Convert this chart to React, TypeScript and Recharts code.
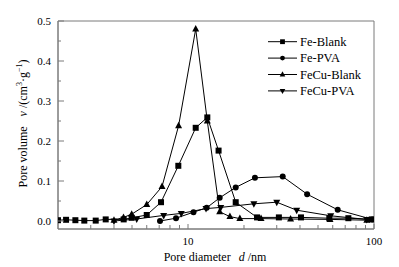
import React from 'react';
import { LineChart, Line, XAxis, YAxis, ReferenceArea, Legend, Label } from 'recharts';

// pore diameter (nm) and pore volume (cm3/g)
const feBlankD = [2.0, 2.21, 2.48, 2.77, 3.19, 3.61, 4.51, 4.98, 6.0, 7.16, 8.87, 11.0, 12.7, 14.6, 18.05, 23.5, 30.8, 40.5, 57.5, 72.8, 97.2];
const feBlankV = [0.002, 0.003, 0.002, 0.001, 0.001, 0.004, 0.004, 0.008, 0.015, 0.047, 0.138, 0.233, 0.259, 0.176, 0.047, 0.009, 0.009, 0.009, 0.007, 0.007, 0.004];

const fePvaD = [7.07, 8.62, 10.7, 12.6, 14.8, 18.05, 22.9, 32.3, 43.7, 63.8, 97.9];
const fePvaV = [0.0, 0.007, 0.022, 0.033, 0.058, 0.084, 0.108, 0.111, 0.067, 0.028, 0.004];

const feCuBlankD = [4.0, 4.5, 4.98, 6.0, 7.25, 8.9, 11.0, 12.7, 14.8, 16.8, 19.0, 24.7, 35.6, 58.0, 91.5];
const feCuBlankV = [0.002, 0.009, 0.017, 0.041, 0.086, 0.238, 0.48, 0.25, 0.023, 0.011, 0.006, 0.006, 0.005, 0.004, 0.002];

const feCuPvaD = [4.0, 5.3, 7.4, 9.2, 12.5, 15.0, 22.6, 30.0, 38.4, 58.5, 91.4];
const feCuPvaV = [0.0, 0.005, 0.014, 0.019, 0.031, 0.034, 0.043, 0.047, 0.027, 0.013, 0.004];

const xTicks = [3, 4, 5, 6, 7, 8, 9, 10, 20, 30, 40, 50, 60, 70, 80, 90, 100];
const yTicks = [0, 0.05, 0.1, 0.15, 0.2, 0.25, 0.3, 0.35, 0.4, 0.45, 0.5];

const toRows = (d: number[], v: number[]) => d.map((x, i) => ({ d: x, v: v[i] }));

const SERIES = [
  { key: 'feBlank', name: 'Fe-Blank', shape: 'square', data: toRows(feBlankD, feBlankV) },
  { key: 'fePva', name: 'Fe-PVA', shape: 'circle', data: toRows(fePvaD, fePvaV) },
  { key: 'feCuBlank', name: 'FeCu-Blank', shape: 'up', data: toRows(feCuBlankD, feCuBlankV) },
  { key: 'feCuPva', name: 'FeCu-PVA', shape: 'down', data: toRows(feCuPvaD, feCuPvaV) },
];

const FONT = "'Liberation Serif', 'Times New Roman', 'DejaVu Serif', serif";
const AXIS = '#7a7a7a';
const txt = { fontFamily: FONT };

const Marker = ({ shape, cx, cy, s = 1 }: { shape: string; cx: number; cy: number; s?: number }) => {
  if (shape === 'square') return <rect x={cx - 3 * s} y={cy - 3 * s} width={6 * s} height={6 * s} fill="#000" />;
  if (shape === 'circle') return <circle cx={cx} cy={cy} r={3 * s} fill="#000" />;
  if (shape === 'up')
    return <polygon points={`${cx},${cy - 4 * s} ${cx - 3.5 * s},${cy + 2.5 * s} ${cx + 3.5 * s},${cy + 2.5 * s}`} fill="#000" />;
  return <polygon points={`${cx},${cy + 4 * s} ${cx - 3.5 * s},${cy - 2.5 * s} ${cx + 3.5 * s},${cy - 2.5 * s}`} fill="#000" />;
};

const XTick = (props: any) => {
  const { x, y, payload } = props;
  const major = payload.value === 10 || payload.value === 100;
  return (
    <g>
      <line x1={x} y1={y} x2={x} y2={y - (major ? 5 : 4)} stroke={AXIS} />
      {major && (
        <text x={x} y={y + 16} textAnchor="middle" fontSize={11} style={txt} fill="#000">
          {payload.value}
        </text>
      )}
    </g>
  );
};

const YTick = (props: any) => {
  const { x, y, payload } = props;
  const v = payload.value;
  const major = Math.abs(v * 10 - Math.round(v * 10)) < 1e-6;
  return (
    <g>
      <line x1={x} y1={y} x2={x + (major ? 6 : 3)} y2={y} stroke={AXIS} />
      {major && (
        <text x={x - 7} y={y + 4} textAnchor="end" fontSize={11} style={txt} fill="#000">
          {v.toFixed(1)}
        </text>
      )}
    </g>
  );
};

const XTitle = (props: any) => {
  const { viewBox } = props;
  const cx = viewBox.x + viewBox.width / 2 - 1;
  return (
    <text x={cx} y={viewBox.y + 31.5} textAnchor="middle" fontSize={12} style={txt} fill="#000">
      Pore diameter
      <tspan dx={8} fontStyle="italic">d</tspan>
      <tspan> /nm</tspan>
    </text>
  );
};

const YTitle = () => {
  const cx = 26.5;
  const cy = 123.5;
  return (
    <text x={cx} y={cy} transform={`rotate(-90 ${cx} ${cy})`} textAnchor="middle" fontSize={12} style={txt} fill="#000">
      Pore volume
      <tspan dx={10} fontStyle="italic">v</tspan>
      <tspan> /(cm</tspan>
      <tspan fontSize={8} dy={-5}>3</tspan>
      <tspan dy={5}>·g</tspan>
      <tspan fontSize={8} dy={-5}>−1</tspan>
      <tspan dy={5}>)</tspan>
    </text>
  );
};

const LegendBox = (props: any) => {
  const items = props.payload || [];
  return (
    <svg width={120} height={70} style={{ display: 'block' }}>
      {items.map((it: any, i: number) => {
        const s = SERIES.find(e => e.name === it.value) || SERIES[i];
        const y = 8.7 + i * 16.4;
        return (
          <g key={s.key}>
            <line x1={2} x2={31} y1={y} y2={y} stroke="#000" />
            <Marker shape={s.shape} cx={16.5} cy={y} s={0.8} />
            <text x={34} y={y + 4.3} fontSize={12.5} style={txt} fill="#000">
              {s.name}
            </text>
          </g>
        );
      })}
    </svg>
  );
};

export default function App() {
  return (
    <div style={{ position: 'absolute', left: 0, top: 0, width: 399, height: 267, background: '#fff', fontFamily: FONT }}>
      <LineChart width={399} height={267} margin={{ top: 21, right: 25, bottom: 0, left: 0 }} style={txt}>
        <XAxis
          type="number"
          dataKey="d"
          scale="log"
          domain={[2, 100]}
          allowDataOverflow
          ticks={xTicks}
          interval={0}
          height={38}
          tickSize={0}
          tickMargin={0}
          tick={<XTick />}
          axisLine={{ stroke: AXIS }}
        >
          <Label content={<XTitle />} />
        </XAxis>
        <YAxis
          type="number"
          domain={[-0.02, 0.5]}
          allowDataOverflow
          ticks={yTicks}
          interval={0}
          width={58}
          tickSize={0}
          tickMargin={0}
          tick={<YTick />}
          axisLine={{ stroke: AXIS }}
        >
          <Label content={<YTitle />} />
        </YAxis>
        <ReferenceArea x1={2} x2={100} y1={-0.02} y2={0.5} fill="none" stroke={AXIS} ifOverflow="visible" />
        {SERIES.map(s => (
          <Line
            key={s.key}
            data={s.data}
            dataKey="v"
            name={s.name}
            type="linear"
            stroke="#000"
            strokeWidth={1}
            isAnimationActive={false}
            activeDot={false}
            dot={(p: any) => <Marker key={`${s.key}-${p.index}`} shape={s.shape} cx={p.cx} cy={p.cy} />}
          />
        ))}
        <Legend
          layout="vertical"
          align="center"
          verticalAlign="middle"
          content={<LegendBox />}
          wrapperStyle={{ left: 266, top: 33, width: 120 }}
        />
      </LineChart>
    </div>
  );
}
